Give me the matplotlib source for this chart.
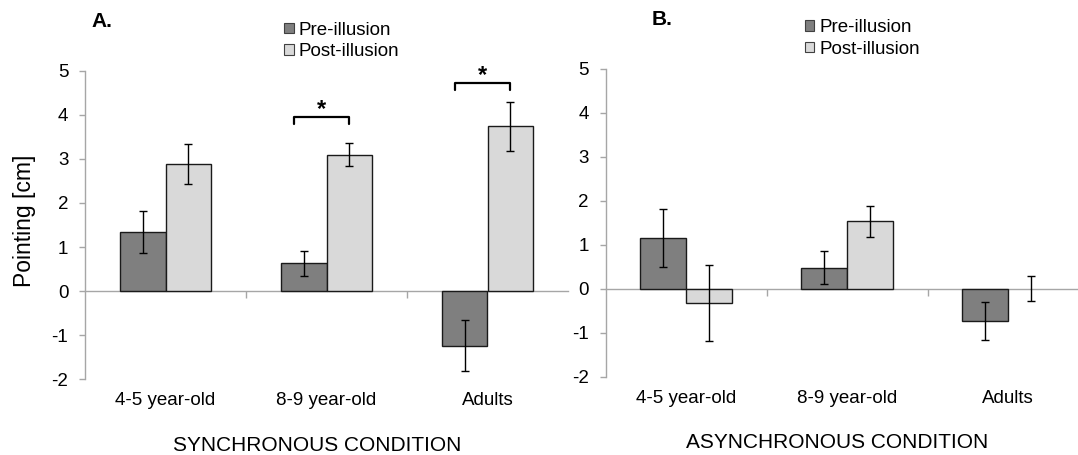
import numpy as np
import matplotlib
matplotlib.use("Agg")
import matplotlib.pyplot as plt
import matplotlib.transforms as mtransforms
from matplotlib.patches import Patch

plt.rcParams['font.family'] = ['Liberation Sans', 'DejaVu Sans']
plt.rcParams['axes.unicode_minus'] = False

# Data
groups = ["4-5 year-old", "8-9 year-old", "Adults"]
series_names = ["Pre-illusion", "Post-illusion"]

sync_pre = [1.34, 0.63, -1.24]
sync_pre_err = [0.48, 0.29, 0.57]
sync_post = [2.89, 3.10, 3.74]
sync_post_err = [0.45, 0.27, 0.56]

async_pre = [1.16, 0.48, -0.73]
async_pre_err = [0.66, 0.38, 0.43]
async_post = [-0.32, 1.53, 0.0]
async_post_err = [0.87, 0.36, 0.28]

# significance brackets (panel A only): group index and bracket height
sig_groups = [1, 2]
sig_heights = [3.96, 4.72]

PRE_COLOR = "#7f7f7f"
POST_COLOR = "#d9d9d9"
AXIS_GRAY = "#a6a6a6"
BAR_W = 0.285


def draw_panel(ax, pre, pre_err, post, post_err, letter, letter_x, condition):
    x = np.arange(len(groups))
    for vals, errs, off, col in [(pre, pre_err, -BAR_W / 2, PRE_COLOR),
                                 (post, post_err, BAR_W / 2, POST_COLOR)]:
        edges = ["#1a1a1a" if v != 0 else "none" for v in vals]
        ax.bar(x + off, vals, BAR_W, color=col, edgecolor=edges, linewidth=1.0, zorder=2)
        ax.errorbar(x + off, vals, yerr=errs, fmt="none", ecolor="black",
                    elinewidth=1.0, capsize=3, capthick=1.0, zorder=3)

    ax.set_xlim(-0.5, len(groups) - 0.5)
    ax.set_ylim(-2, 5)
    ax.set_yticks(range(-2, 6))
    ax.tick_params(axis="y", labelsize=13.5, length=4, width=1.0, color=AXIS_GRAY, pad=8)

    # category axis sits on y = 0, ticks between groups
    ax.spines["bottom"].set_position(("data", 0))
    ax.set_xticks(x[:-1] + 0.5)
    ax.set_xticklabels([])
    ax.tick_params(axis="x", length=5, width=1.0, color=AXIS_GRAY)
    for s in ["top", "right"]:
        ax.spines[s].set_visible(False)
    for s in ["left", "bottom"]:
        ax.spines[s].set_color(AXIS_GRAY)
        ax.spines[s].set_linewidth(1.0)
        ax.spines[s].set_zorder(1)

    trans = mtransforms.blended_transform_factory(ax.transData, ax.transAxes)
    for xi, name in zip(x, groups):
        ax.text(xi, -0.07, name, transform=trans, ha="center", va="center", fontsize=13.5)

    ax.text(0.48, -0.215, condition, transform=ax.transAxes, ha="center", va="center",
            fontsize=15)
    ax.text(letter_x, 1.16, letter, transform=ax.transAxes, ha="center", va="center",
            fontsize=15, fontweight="bold")

    handles = [Patch(facecolor=PRE_COLOR, edgecolor="#404040", linewidth=0.8),
               Patch(facecolor=POST_COLOR, edgecolor="#404040", linewidth=0.8)]
    ax.legend(handles, series_names, loc="upper left", bbox_to_anchor=(0.413, 1.16),
              frameon=False, fontsize=13.5, handlelength=0.5, handleheight=0.5,
              handletextpad=0.25, labelspacing=0.22, borderpad=0, borderaxespad=0)


fig = plt.figure(figsize=(10.78, 4.55), dpi=100)
ax_a = fig.add_axes([85 / 1078, 0.167, 483 / 1078, 0.677])
ax_b = fig.add_axes([605.5 / 1078, 0.172, 483 / 1078, 0.677])

draw_panel(ax_a, sync_pre, sync_pre_err, sync_post, sync_post_err, "A.", 0.035,
           "SYNCHRONOUS CONDITION")
draw_panel(ax_b, async_pre, async_pre_err, async_post, async_post_err, "B.", 0.118,
           "ASYNCHRONOUS CONDITION")

# significance brackets in panel A
for g, h in zip(sig_groups, sig_heights):
    xl, xr = g - 0.2, g + 0.14
    ax_a.plot([xl, xl, xr, xr], [h - 0.16, h, h, h - 0.16], color="black", lw=1.6,
              solid_joinstyle="round", solid_capstyle="round", zorder=3)
    ax_a.text((xl + xr) / 2, h + 0.17, "*", ha="center", va="center", fontsize=17,
              fontweight="bold")

fig.text(24 / 1078, 1 - 221 / 455, "Pointing [cm]", rotation=90, ha="center", va="center",
         fontsize=16.5)

fig.savefig("out.png", dpi=100)
